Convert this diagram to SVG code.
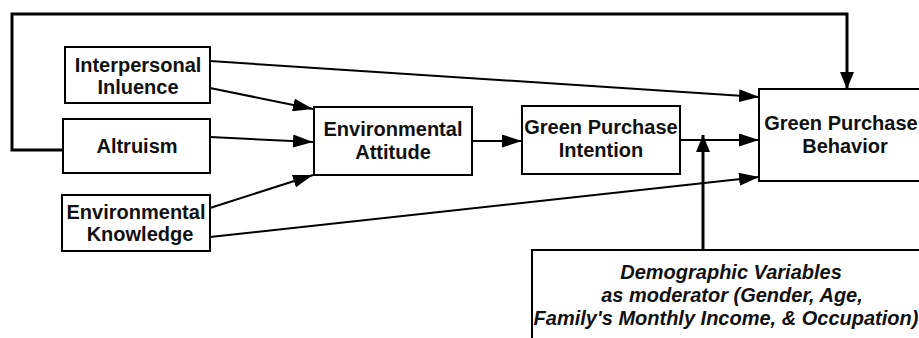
<svg xmlns="http://www.w3.org/2000/svg" width="919" height="338" viewBox="0 0 919 338">
<style>
.box{fill:#fff;stroke:#000;stroke-width:2}
.lbl{font-family:"Liberation Sans",Arial,sans-serif;font-weight:bold;font-size:20px;fill:#111;text-anchor:middle}
.it{font-style:italic}
.edge{fill:none;stroke:#000;stroke-width:2}
.fb{fill:none;stroke:#000;stroke-width:3}
</style>
<defs>
<marker id="ah" markerUnits="userSpaceOnUse" markerWidth="20" markerHeight="13" refX="20" refY="6.5" orient="auto">
<path d="M0,0 L20,6.5 L0,13 z" fill="#000"/>
</marker>
<marker id="ah2" markerUnits="userSpaceOnUse" markerWidth="17" markerHeight="14" refX="17" refY="7" orient="auto">
<path d="M0,0 L17,7 L0,14 z" fill="#000"/>
</marker>
</defs>
<rect width="919" height="338" fill="#fff"/>
<g id="connectors">
<path class="fb" d="M63,150 H12 V14 H847 V89" marker-end="url(#ah2)"/>
<line class="edge" x1="210" y1="61" x2="759" y2="97" marker-end="url(#ah)"/>
<line class="edge" x1="210" y1="88" x2="313" y2="109" marker-end="url(#ah)"/>
<line class="edge" x1="210" y1="137" x2="313" y2="142" marker-end="url(#ah)"/>
<line class="edge" x1="210" y1="208" x2="313" y2="175" marker-end="url(#ah)"/>
<line class="edge" x1="210" y1="237" x2="759" y2="177" marker-end="url(#ah)"/>
<line class="edge" x1="472" y1="141" x2="522" y2="141" marker-end="url(#ah)"/>
<line class="edge" x1="680" y1="140" x2="759" y2="140" marker-end="url(#ah)"/>
<line class="fb" x1="703" y1="250" x2="703" y2="135" marker-end="url(#ah2)"/>
</g>
<g id="interpersonal">
<rect class="box" x="65" y="47" width="145" height="56"/>
<text class="lbl" x="138" y="72">Interpersonal</text>
<text class="lbl" x="138" y="94">Inluence</text>
</g>
<g id="altruism">
<rect class="box" x="63" y="119" width="147" height="54"/>
<text class="lbl" x="137" y="153">Altruism</text>
</g>
<g id="knowledge">
<rect class="box" x="62" y="195" width="148" height="56"/>
<text class="lbl" x="136" y="219">Environmental</text>
<text class="lbl" x="140" y="241">Knowledge</text>
</g>
<g id="attitude">
<rect class="box" x="314" y="107" width="158" height="68"/>
<text class="lbl" x="393" y="136">Environmental</text>
<text class="lbl" x="393" y="159">Attitude</text>
</g>
<g id="intention">
<rect class="box" x="522" y="106" width="158" height="68"/>
<text class="lbl" x="601" y="134">Green Purchase</text>
<text class="lbl" x="601" y="157">Intention</text>
</g>
<g id="behavior">
<rect class="box" x="759" y="89" width="175" height="92"/>
<text class="lbl" x="841" y="130">Green Purchase</text>
<text class="lbl" x="845" y="153">Behavior</text>
</g>
<g id="demographic">
<rect class="box" x="532" y="250" width="400" height="100"/>
<text class="lbl it" x="731" y="279">Demographic Variables</text>
<text class="lbl it" x="732" y="302">as moderator (Gender, Age,</text>
<text class="lbl it" x="726" y="325">Family's Monthly Income, &amp; Occupation)</text>
</g>
</svg>
